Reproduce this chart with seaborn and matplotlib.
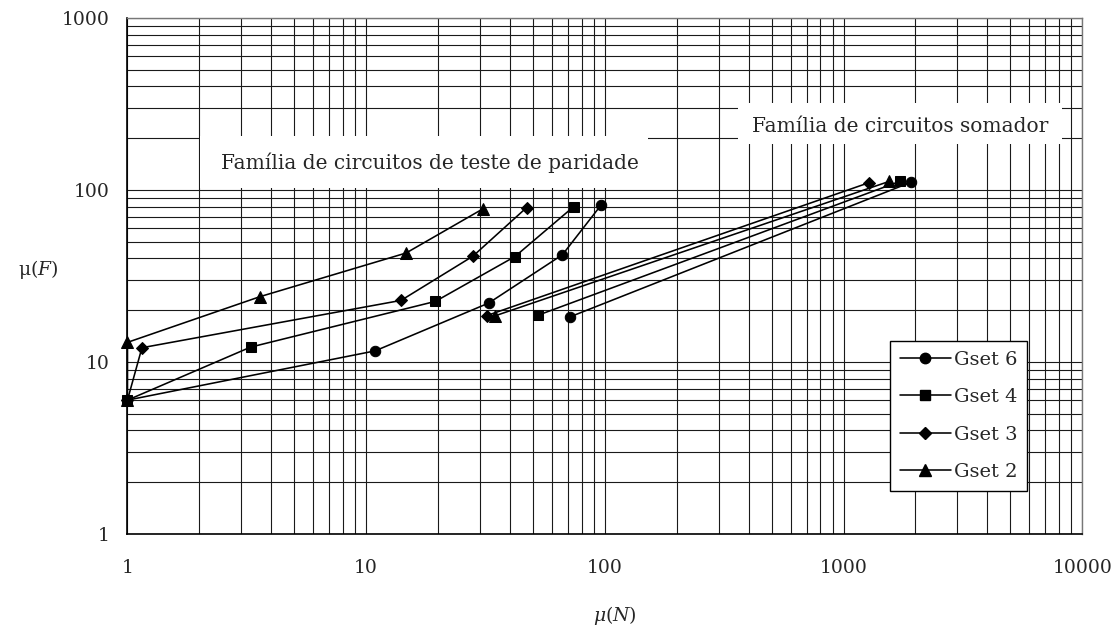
import matplotlib
matplotlib.use("Agg")
import matplotlib.pyplot as plt
from matplotlib.patches import Rectangle
from matplotlib.ticker import LogLocator, FixedLocator, FixedFormatter, NullFormatter
from matplotlib.lines import Line2D
import seaborn as sns
import pandas as pd

# Parity-test circuit family: mu(N) vs mu(F) per gate set
parity_n_gset6 = [1, 10.9, 32.6, 66.4, 96.6]
parity_f_gset6 = [6, 11.6, 22.0, 42.0, 82.0]
parity_n_gset4 = [1, 3.28, 19.5, 42.0, 74.0]
parity_f_gset4 = [6, 12.2, 22.5, 41.0, 80.0]
parity_n_gset3 = [1, 1.15, 14.0, 28.0, 47.0]
parity_f_gset3 = [6, 12.1, 22.8, 41.2, 79.0]
parity_n_gset2 = [1, 1, 3.6, 14.7, 31.0]
parity_f_gset2 = [6, 13, 24.0, 43.0, 78.0]

# Adder circuit family
adder_n_gset6 = [71.5, 1919]
adder_f_gset6 = [18.3, 111]
adder_n_gset4 = [52.5, 1715]
adder_f_gset4 = [18.7, 112]
adder_n_gset3 = [32.0, 1272]
adder_f_gset3 = [18.6, 110]
adder_n_gset2 = [34.5, 1548]
adder_f_gset2 = [18.5, 112]

gsets = ["Gset 6", "Gset 4", "Gset 3", "Gset 2"]
x_ticks = [1, 10, 100, 1000, 10000]
y_ticks = [1, 10, 100, 1000]
label_parity = "Família de circuitos de teste de paridade"
label_adder = "Família de circuitos somador"

rows = []
series = {
    "Gset 6": [(parity_n_gset6, parity_f_gset6), (adder_n_gset6, adder_f_gset6)],
    "Gset 4": [(parity_n_gset4, parity_f_gset4), (adder_n_gset4, adder_f_gset4)],
    "Gset 3": [(parity_n_gset3, parity_f_gset3), (adder_n_gset3, adder_f_gset3)],
    "Gset 2": [(parity_n_gset2, parity_f_gset2), (adder_n_gset2, adder_f_gset2)],
}
for g, fams in series.items():
    for fam_idx, (ns, fs) in enumerate(fams):
        for order, (n, f) in enumerate(zip(ns, fs)):
            rows.append({"gset": g, "family": fam_idx, "order": order, "N": n, "F": f})
df = pd.DataFrame(rows)

sns.set_style("white")
plt.rcParams["font.family"] = ["DejaVu Serif"]
plt.rcParams["mathtext.fontset"] = "custom"
plt.rcParams["mathtext.rm"] = "DejaVu Serif"
plt.rcParams["mathtext.it"] = "DejaVu Serif:italic"

markers = {"Gset 6": "o", "Gset 4": "s", "Gset 3": "D", "Gset 2": "^"}
msizes = {"Gset 6": 7.5, "Gset 4": 7.0, "Gset 3": 6.5, "Gset 2": 8.0}

fig = plt.figure(figsize=(11.19, 6.32), dpi=100)
ax = fig.add_axes([0.1139, 0.1551, 0.8533, 0.8165])
ax.set_xscale("log")
ax.set_yscale("log")
ax.set_xlim(1, 10000)
ax.set_ylim(1, 1000)

for g in gsets:
    sub = df[df["gset"] == g]
    for fam, part in sub.groupby("family"):
        part = part.sort_values("order")
        sns.lineplot(data=part, x="N", y="F", sort=False, estimator=None,
                     color="black", linewidth=1.15, marker=markers[g],
                     markersize=msizes[g], markeredgecolor="black",
                     markerfacecolor="black", ax=ax, legend=False, zorder=5,
                     clip_on=False)

# Full log grid (major and minor) on both axes
ax.xaxis.set_major_locator(FixedLocator(x_ticks))
ax.xaxis.set_major_formatter(FixedFormatter([str(t) for t in x_ticks]))
ax.yaxis.set_major_locator(FixedLocator(y_ticks))
ax.yaxis.set_major_formatter(FixedFormatter([str(t) for t in y_ticks]))
ax.xaxis.set_minor_locator(LogLocator(base=10, subs=range(2, 10)))
ax.yaxis.set_minor_locator(LogLocator(base=10, subs=range(2, 10)))
ax.xaxis.set_minor_formatter(NullFormatter())
ax.yaxis.set_minor_formatter(NullFormatter())
ax.grid(True, which="both", color="#1a1a1a", linewidth=0.8)
ax.set_axisbelow(True)
ax.tick_params(axis="both", which="major", direction="out", length=5,
               width=1.0, color="black", labelsize=13.5, pad=8)
ax.tick_params(axis="both", which="minor", length=0)
ax.tick_params(axis="x", pad=13)

for side in ["left", "bottom"]:
    ax.spines[side].set_color("black")
    ax.spines[side].set_linewidth(1.2)
for side in ["top", "right"]:
    ax.spines[side].set_color("#777777")
    ax.spines[side].set_linewidth(1.0)

# White label panels over the grid
ax.add_patch(Rectangle((0.0759, 0.6705), 0.4692, 0.1010, transform=ax.transAxes,
                       facecolor="white", edgecolor="none", zorder=3))
ax.text(0.3170, 0.7200, label_parity, transform=ax.transAxes, ha="center",
        va="center", fontsize=14.5, zorder=4)
ax.add_patch(Rectangle((0.6394, 0.7560), 0.3393, 0.0790, transform=ax.transAxes,
                       facecolor="white", edgecolor="none", zorder=3))
ax.text(0.8090, 0.7900, label_adder, transform=ax.transAxes, ha="center",
        va="center", fontsize=14.5, zorder=4)

ax.set_xlabel(r"$\mathit{\mu(N)}$", fontsize=13.5)
ax.xaxis.set_label_coords(0.5106, -0.136)
ax.set_ylabel(r"μ($\mathit{F}$)", fontsize=13.5, rotation=0, ha="center", va="center")
ax.yaxis.set_label_coords(-0.094, 0.512)

handles = [Line2D([0], [0], color="black", linewidth=1.15, marker=markers[g],
                  markersize=msizes[g], markerfacecolor="black",
                  markeredgecolor="black") for g in gsets]
leg = ax.legend(handles, gsets, loc="upper right", bbox_to_anchor=(0.942, 0.374),
                fancybox=False, framealpha=1, edgecolor="black", fontsize=14,
                labelspacing=1.0, handlelength=2.6, handletextpad=0.15,
                borderpad=0.5, borderaxespad=0)
leg.get_frame().set_linewidth(1.0)
leg.set_zorder(10)

fig.savefig("out.png", dpi=100, facecolor="white")
